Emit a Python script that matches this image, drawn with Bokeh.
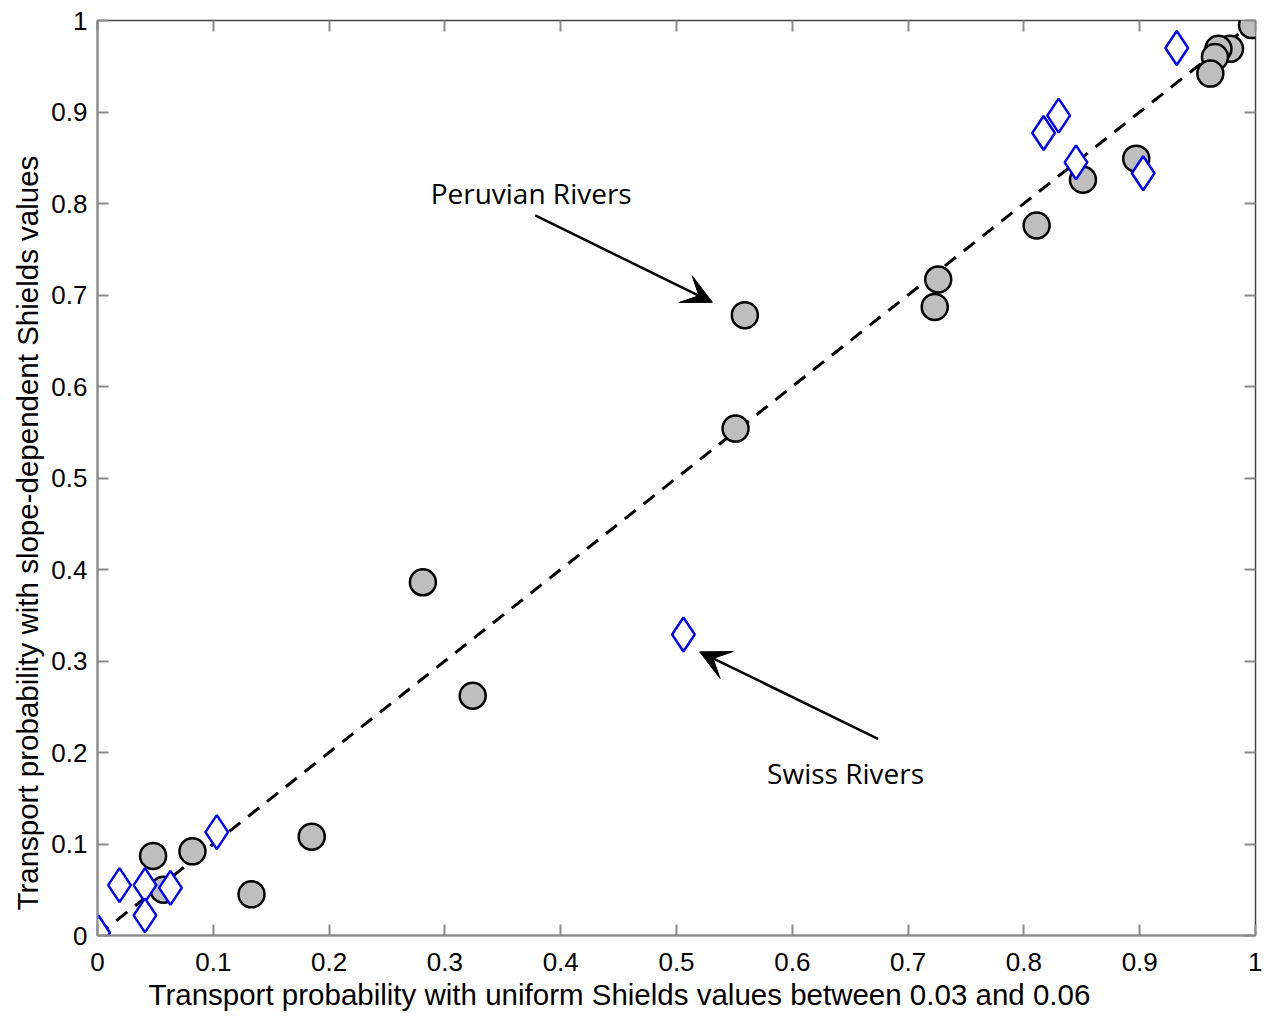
from bokeh.plotting import figure
from bokeh.models import (Range1d, FixedTicker, LinearAxis, Arrow, VeeHead, Label, Title)
from bokeh.embed import file_html
from bokeh.resources import INLINE

# Peruvian rivers (grey circles)
peru_x = [0.997, 0.978, 0.968, 0.965, 0.961, 0.897, 0.851, 0.811, 0.726, 0.723,
          0.559, 0.551, 0.281, 0.324, 0.185, 0.082, 0.048, 0.057, 0.133]
peru_y = [0.995, 0.969, 0.969, 0.960, 0.942, 0.849, 0.826, 0.776, 0.717, 0.687,
          0.678, 0.554, 0.386, 0.262, 0.108, 0.092, 0.087, 0.050, 0.045]
# Swiss rivers (blue diamonds)
swiss_x = [0.932, 0.830, 0.817, 0.845, 0.903, 0.506, 0.103, 0.019, 0.041, 0.063, 0.041, 0.001]
swiss_y = [0.970, 0.896, 0.877, 0.845, 0.833, 0.329, 0.113, 0.055, 0.055, 0.052, 0.022, 0.003]
# 1:1 line
line_x = [0.0, 1.0]
line_y = [0.0, 1.0]

ticks = [0, 0.1, 0.2, 0.3, 0.4, 0.5, 0.6, 0.7, 0.8, 0.9, 1]
tick_labels = ["0", "0.1", "0.2", "0.3", "0.4", "0.5", "0.6", "0.7", "0.8", "0.9", "1"]

xlabel = "Transport probability with uniform Shields values between 0.03 and 0.06"
ylabel = "Transport probability with slope-dependent Shields values"

FONT = "Liberation Sans"
AX_COL = "#8a8a8a"

p = figure(width=1262, height=1018, output_backend="svg", toolbar_location=None,
           x_range=Range1d(0, 1), y_range=Range1d(0, 1),
           min_border_left=97, min_border_right=7, min_border_top=20, min_border_bottom=83)
p.grid.visible = False
p.outline_line_color = "#444444"
p.outline_line_width = 1.5

overrides = {t: l for t, l in zip(ticks, tick_labels)}
for ax in (p.xaxis[0], p.yaxis[0]):
    ax.ticker = FixedTicker(ticks=ticks)
    ax.major_label_overrides = overrides
    ax.major_tick_in = 11
    ax.major_tick_out = 0
    ax.minor_tick_line_color = None
    ax.axis_line_color = AX_COL
    ax.axis_line_width = 2
    ax.major_tick_line_color = AX_COL
    ax.major_tick_line_width = 2
    ax.major_label_text_font = FONT
    ax.major_label_text_font_size = "26px"
    ax.major_label_text_color = "black"
p.xaxis[0].major_label_standoff = 17
p.yaxis[0].major_label_standoff = 10

for loc in ("above", "right"):
    ax = LinearAxis(ticker=FixedTicker(ticks=ticks))
    ax.major_tick_in = 11
    ax.major_tick_out = 0
    ax.minor_tick_line_color = None
    ax.axis_line_color = None
    ax.major_tick_line_color = AX_COL
    ax.major_tick_line_width = 2
    ax.major_label_text_font_size = "0px"
    ax.major_label_standoff = 0
    p.add_layout(ax, loc)

# axis titles (offset along the axis as in the reference)
p.add_layout(Title(text=xlabel, align="left", offset=51, text_font=FONT,
                   text_font_size="29.5px", text_font_style="normal",
                   text_color="black", standoff=4), "below")
p.add_layout(Title(text=ylabel, align="left", offset=25, text_font=FONT,
                   text_font_size="29.5px", text_font_style="normal",
                   text_color="black", standoff=10), "left")

p.line(line_x, line_y, line_color="black", line_width=3, line_dash="14 10")
p.scatter(peru_x, peru_y, marker="circle", size=26, fill_color="#bebebe",
          line_color="black", line_width=2.5)
p.scatter(swiss_x, swiss_y, marker="diamond", size=34, fill_color="white",
          line_color="#0000ff", line_width=2.5)

p.add_layout(Label(x=0.3745, y=0.811, text="Peruvian Rivers", text_font="Open Sans",
                   text_font_size="28px", text_align="center", text_baseline="middle",
                   text_color="black"))
p.add_layout(Label(x=0.646, y=0.178, text="Swiss Rivers", text_font="Open Sans",
                   text_font_size="28px", text_align="center", text_baseline="middle",
                   text_color="black"))
p.add_layout(Arrow(x_start=0.378, y_start=0.787, x_end=0.531, y_end=0.692,
                   line_color="black", line_width=2.5,
                   end=VeeHead(size=30, fill_color="black", line_color="black")))
p.add_layout(Arrow(x_start=0.674, y_start=0.215, x_end=0.520, y_end=0.310,
                   line_color="black", line_width=2.5,
                   end=VeeHead(size=30, fill_color="black", line_color="black")))

open("out.html", "w").write(file_html(p, INLINE))
